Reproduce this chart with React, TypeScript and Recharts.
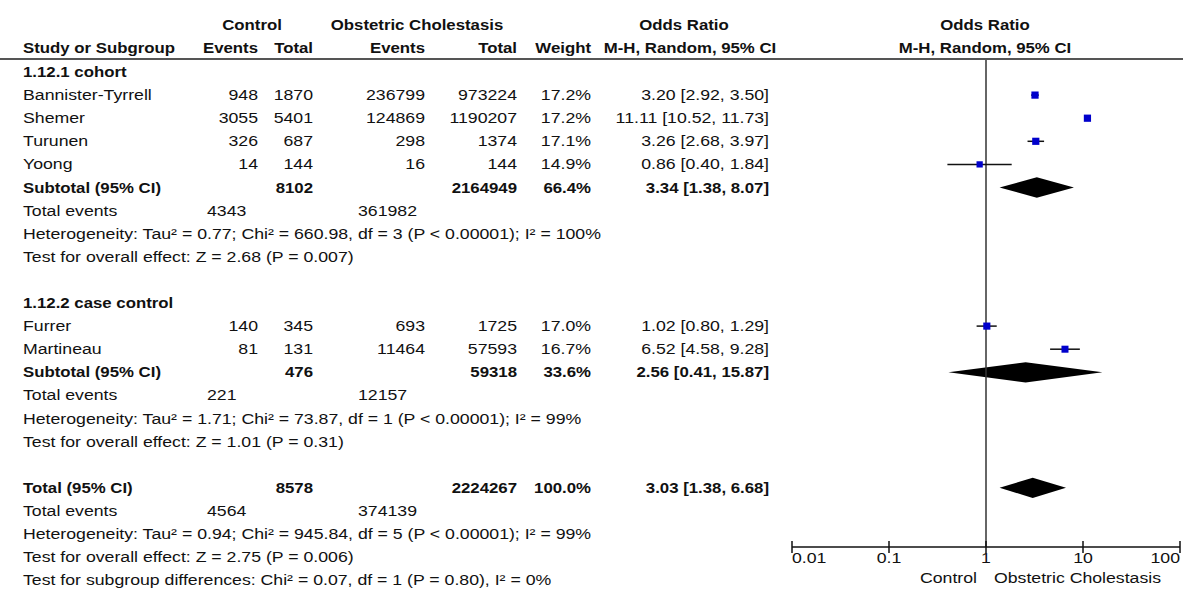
import React from 'react';
import { ComposedChart, XAxis, YAxis, Scatter, ErrorBar, Area, ReferenceLine } from 'recharts';

// individual studies
const studyNames = ['Bannister-Tyrrell', 'Shemer', 'Turunen', 'Yoong', 'Furrer', 'Martineau'];
const studyRows = [1, 2, 3, 4, 11, 12];
const controlEvents = [948, 3055, 326, 14, 140, 81];
const controlTotal = [1870, 5401, 687, 144, 345, 131];
const ocEvents = [236799, 124869, 298, 16, 693, 11464];
const ocTotal = [973224, 1190207, 1374, 144, 1725, 57593];
const weights = [17.2, 17.2, 17.1, 14.9, 17.0, 16.7];
const oddsRatio = [3.2, 11.11, 3.26, 0.86, 1.02, 6.52];
const ciLow = [2.92, 10.52, 2.68, 0.4, 0.8, 4.58];
const ciHigh = [3.5, 11.73, 3.97, 1.84, 1.29, 9.28];

// subtotals and overall
const pooledLabels = ['Subtotal (95% CI)', 'Subtotal (95% CI)', 'Total (95% CI)'];
const pooledRows = [5, 13, 18];
const pooledControlTotal = [8102, 476, 8578];
const pooledOcTotal = [2164949, 59318, 2224267];
const pooledWeight = [66.4, 33.6, 100.0];
const pooledOR = [3.34, 2.56, 3.03];
const pooledLow = [1.38, 0.41, 1.38];
const pooledHigh = [8.07, 15.87, 6.68];

const eventRows = [6, 14, 19];
const eventsControl = [4343, 221, 4564];
const eventsOc = [361982, 12157, 374139];

const groupLabels = ['1.12.1 cohort', '1.12.2 case control'];
const groupRows = [0, 10];

const noteRows = [7, 8, 15, 16, 20, 21, 22];
const notes = [
  'Heterogeneity: Tau² = 0.77; Chi² = 660.98, df = 3 (P < 0.00001); I² = 100%',
  'Test for overall effect: Z = 2.68 (P = 0.007)',
  'Heterogeneity: Tau² = 1.71; Chi² = 73.87, df = 1 (P < 0.00001); I² = 99%',
  'Test for overall effect: Z = 1.01 (P = 0.31)',
  'Heterogeneity: Tau² = 0.94; Chi² = 945.84, df = 5 (P < 0.00001); I² = 99%',
  'Test for overall effect: Z = 2.75 (P = 0.006)',
  'Test for subgroup differences: Chi² = 0.07, df = 1 (P = 0.80), I² = 0%',
];

const xTicks = [0.01, 0.1, 1, 10, 100];

// layout
const W = 1183;
const H = 590;
const PLOT_TOP = 59;
const PLOT_BOTTOM = 547;
const FIRST_ROW = 72;
const PITCH = 23.1;
const yMin = -(FIRST_ROW - PLOT_TOP) / PITCH;
const yMax = yMin + (PLOT_BOTTOM - PLOT_TOP) / PITCH;
const rowY = (r: number) => FIRST_ROW + r * PITCH;

const FONT = '"Liberation Sans", Arial, sans-serif';
const INK = '#111';

const fmtCI = (or: number, lo: number, hi: number) =>
  `${or.toFixed(2)} [${lo.toFixed(2)}, ${hi.toFixed(2)}]`;

function T({ x, y, anchor = 'start', bold = false, children }: any) {
  return (
    <text
      transform={`translate(${x} ${y}) scale(${bold ? 1.12 : 1.18} 1)`}
      textAnchor={anchor}
      fontFamily={FONT}
      fontSize={15}
      fontWeight={bold ? 700 : 400}
      fill={INK}
    >
      {children}
    </text>
  );
}

const StudySquare = (props: any) => {
  const { cx, cy, payload } = props;
  const s = payload.weight * 0.42;
  return <rect x={cx - s / 2} y={cy - s / 2} width={s} height={s} fill="#0000CC" />;
};

const AxisTick = (props: any) => {
  const { x, y, payload, index } = props;
  const anchor = index === 0 ? 'start' : index === xTicks.length - 1 ? 'end' : 'middle';
  return (
    <g>
      <line x1={x} x2={x} y1={y - 6} y2={y + 6} stroke={INK} strokeWidth={1.5} />
      <T x={x} y={y + 16} anchor={anchor}>{String(payload.value)}</T>
    </g>
  );
};

const studyData = studyNames.map((name, i) => ({
  name,
  x: oddsRatio[i],
  y: studyRows[i],
  err: [oddsRatio[i] - ciLow[i], ciHigh[i] - oddsRatio[i]],
  weight: weights[i],
}));

const DIAMOND_HALF = 0.44;
const diamonds = pooledOR.map((or, i) => {
  const r = pooledRows[i];
  return [
    { x: pooledLow[i], band: [r, r] },
    { x: or, band: [r - DIAMOND_HALF, r + DIAMOND_HALF] },
    { x: pooledHigh[i], band: [r, r] },
  ];
});

// right edges of the table columns
const COL = { name: 23, cEv: 258, cTot: 313, oEv: 425, oTot: 517, wt: 591, ci: 769 };

function Table() {
  const base = (r: number) => rowY(r) + 5;
  return (
    <svg width={W} height={H} style={{ position: 'absolute', left: 0, top: 0, pointerEvents: 'none' }}>
      <T x={252} y={30} anchor="middle" bold>Control</T>
      <T x={417} y={30} anchor="middle" bold>Obstetric Cholestasis</T>
      <T x={684} y={30} anchor="middle" bold>Odds Ratio</T>
      <T x={985} y={30} anchor="middle" bold>Odds Ratio</T>
      <T x={COL.name} y={53} bold>Study or Subgroup</T>
      <T x={COL.cEv} y={53} anchor="end" bold>Events</T>
      <T x={COL.cTot} y={53} anchor="end" bold>Total</T>
      <T x={COL.oEv} y={53} anchor="end" bold>Events</T>
      <T x={COL.oTot} y={53} anchor="end" bold>Total</T>
      <T x={COL.wt} y={53} anchor="end" bold>Weight</T>
      <T x={690} y={53} anchor="middle" bold>M-H, Random, 95% CI</T>
      <T x={985} y={53} anchor="middle" bold>M-H, Random, 95% CI</T>
      <line x1={0} x2={W} y1={PLOT_TOP} y2={PLOT_TOP} stroke="#555" strokeWidth={2} />

      {groupLabels.map((g, i) => (
        <T key={g} x={COL.name} y={base(groupRows[i])} bold>{g}</T>
      ))}

      {studyNames.map((name, i) => {
        const y = base(studyRows[i]);
        return (
          <g key={name}>
            <T x={COL.name} y={y}>{name}</T>
            <T x={COL.cEv} y={y} anchor="end">{controlEvents[i]}</T>
            <T x={COL.cTot} y={y} anchor="end">{controlTotal[i]}</T>
            <T x={COL.oEv} y={y} anchor="end">{ocEvents[i]}</T>
            <T x={COL.oTot} y={y} anchor="end">{ocTotal[i]}</T>
            <T x={COL.wt} y={y} anchor="end">{weights[i].toFixed(1)}%</T>
            <T x={COL.ci} y={y} anchor="end">{fmtCI(oddsRatio[i], ciLow[i], ciHigh[i])}</T>
          </g>
        );
      })}

      {pooledLabels.map((label, i) => {
        const y = base(pooledRows[i]);
        return (
          <g key={i}>
            <T x={COL.name} y={y} bold>{label}</T>
            <T x={COL.cTot} y={y} anchor="end" bold>{pooledControlTotal[i]}</T>
            <T x={COL.oTot} y={y} anchor="end" bold>{pooledOcTotal[i]}</T>
            <T x={COL.wt} y={y} anchor="end" bold>{pooledWeight[i].toFixed(1)}%</T>
            <T x={COL.ci} y={y} anchor="end" bold>{fmtCI(pooledOR[i], pooledLow[i], pooledHigh[i])}</T>
          </g>
        );
      })}

      {eventRows.map((r, i) => (
        <g key={r}>
          <T x={COL.name} y={base(r)}>Total events</T>
          <T x={207} y={base(r)}>{eventsControl[i]}</T>
          <T x={358} y={base(r)}>{eventsOc[i]}</T>
        </g>
      ))}

      {notes.map((n, i) => (
        <T key={i} x={COL.name} y={base(noteRows[i])}>{n}</T>
      ))}

      <T x={977} y={583} anchor="end">Control</T>
      <T x={994} y={583}>Obstetric Cholestasis</T>
    </svg>
  );
}

export default function App() {
  return (
    <div style={{ position: 'absolute', left: 0, top: 0, width: W, height: H, background: '#fff' }}>
      <ComposedChart width={W} height={H} margin={{ top: PLOT_TOP, right: 3, bottom: 13, left: 792 }}>
        <XAxis
          dataKey="x"
          type="number"
          scale="log"
          domain={[0.01, 100]}
          ticks={xTicks}
          interval={0}
          allowDataOverflow
          height={30}
          tickSize={0}
          tickMargin={0}
          tickLine={false}
          axisLine={{ stroke: INK, strokeWidth: 1.5 }}
          tick={<AxisTick />}
        />
        <YAxis type="number" domain={[yMin, yMax]} reversed allowDataOverflow hide />
        <ReferenceLine x={1} stroke="#333" strokeWidth={1.5} />
        {diamonds.map((d, i) => (
          <Area
            key={i}
            data={d}
            dataKey="band"
            type="linear"
            fill="#000"
            fillOpacity={1}
            stroke="none"
            dot={false}
            activeDot={false}
            isAnimationActive={false}
          />
        ))}
        <Scatter data={studyData} dataKey="y" shape={<StudySquare />} isAnimationActive={false}>
          <ErrorBar dataKey="err" direction="x" width={0} stroke={INK} strokeWidth={1.5} />
        </Scatter>
      </ComposedChart>
      <Table />
    </div>
  );
}
